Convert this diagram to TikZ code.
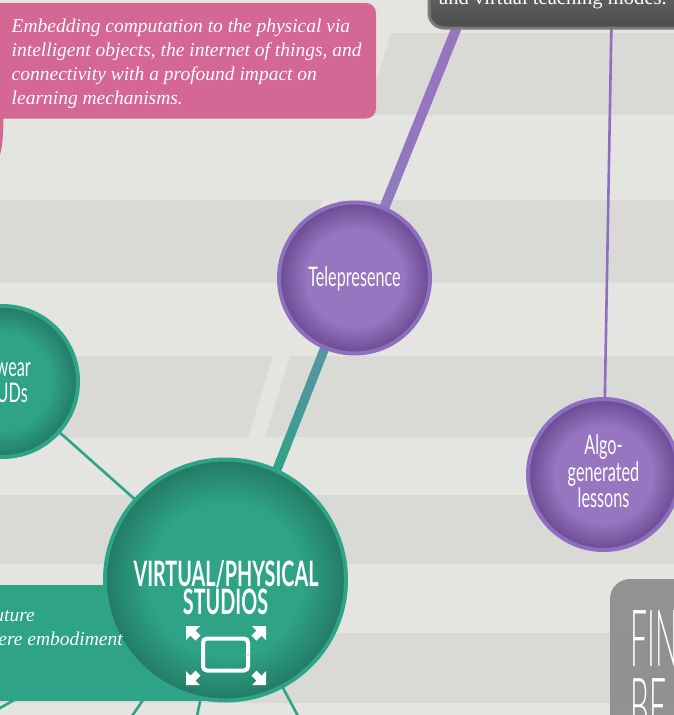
\documentclass[tikz,border=0pt]{standalone}
\usepackage{fontspec}
\usetikzlibrary{calc}
\setmainfont{Liberation Serif}
\newfontfamily\condfont[FakeStretch=0.60]{Lato}
\newfontfamily\headfont[FakeStretch=0.565]{Lato}
\newfontfamily\thinfont[FakeStretch=0.38]{Lato Light}
\definecolor{bgc}{HTML}{E4E5E0}
\definecolor{bandc}{HTML}{D9DAD5}
\definecolor{pinkc}{HTML}{D56794}
\definecolor{teal1}{HTML}{2EA386}
\definecolor{teal2}{HTML}{237A64}
\definecolor{purp1}{HTML}{9775C0}
\definecolor{purp2}{HTML}{6A4B92}
\definecolor{purpb}{HTML}{8E6EBE}
\definecolor{linkteal}{HTML}{5993A6}
\definecolor{linkpurp}{HTML}{8C7DBE}
\definecolor{fing}{HTML}{8E8F8D}
\pgfdeclareradialshading{greenball}{\pgfpoint{0bp}{0bp}}{color(0bp)=(teal1); color(16bp)=(teal1); color(25bp)=(teal2); color(50bp)=(teal2)}
\pgfdeclareradialshading{purpleball}{\pgfpoint{0bp}{0bp}}{color(0bp)=(purp1); color(16bp)=(purp1); color(25bp)=(purp2); color(50bp)=(purp2)}
\pgfdeclarelayer{bandlayer}
\pgfdeclarelayer{linelayer}
\pgfsetlayers{bandlayer,linelayer,main}
\tikzset{
  ball/.style={circle,line width=4pt,inner sep=0pt,outer sep=0pt,minimum size=#1},
  greenc/.style={ball=#1,draw=teal1,shading=greenball},
  purplec/.style={ball=#1,draw=purpb,shading=purpleball},
  band/.style={fill=bandc,draw=none},
  thing/.style={draw=teal1,line width=2.6pt},
  thinp/.style={draw=purpb,line width=2.6pt},
  ctext/.style={text=white,font=\condfont\fontsize{27}{26.5}\selectfont,align=center,inner sep=0pt},
  htext/.style={text=white,font=\headfont\bfseries\fontsize{35}{29}\selectfont,align=center,inner sep=0pt},
  itext/.style={text=white,font=\itshape\fontsize{19.5}{24}\selectfont,align=left,inner sep=0pt},
  boxshape/.style={rectangle,inner sep=0pt,outer sep=0pt},
  tabarrow/.style={fill=white,draw=none},
}
\begin{document}
\begin{tikzpicture}[x=1pt,y=-1pt]
\useasboundingbox (0,0) rectangle (674,715);
\begin{pgfonlayer}{bandlayer}
\fill[bgc] (0,0) rectangle (674,715);
\fill[band] (391,33) -- (674,33) -- (674,115) -- (366,115) -- cycle;
\fill[band] (0,200) -- (322,200) -- (297,283) -- (0,283) -- cycle;
\fill[band] (339,200) -- (674,200) -- (674,283) -- (314,283) -- cycle;
\fill[band] (0,356) -- (273,356) -- (248,437) -- (0,437) -- cycle;
\fill[band] (290,356) -- (674,356) -- (674,437) -- (265,437) -- cycle;
\fill[band] (0,495) rectangle (674,564);
\fill[band] (0,633) rectangle (674,703);
\end{pgfonlayer}

% boxes
\fill[pinkc] (0,116) -- (3.5,116) .. controls (3.5,133) and (2.5,146) .. (0,155) -- cycle;
\node[boxshape,fill=pinkc,rounded corners=10pt,minimum width=396pt,minimum height=115.5pt] (pinkbox) at (178,60.75) {};
\node[itext,anchor=north west] (pinktext) at (11.5,19) {Embedding computation to the physical via\\intelligent objects, the internet of things, and\\connectivity with a profound impact on\\learning mechanisms.};
\node[boxshape,top color=black!55,bottom color=black!70,draw=black!52,line width=3pt,rounded corners=15pt,minimum width=300pt,minimum height=66pt] (darkbox) at (579,-5) {};
\node[text=white,inner sep=0pt,anchor=base east,font=\fontsize{20.6}{24}\selectfont] (darktext) at (667,4) {and virtual teaching modes.};
\node[boxshape,fill=fing,fill opacity=0.95,rounded corners=20pt,minimum width=120pt,minimum height=200pt,anchor=north west] (finbox) at (610,579) {};
\node[text=white,inner sep=0pt,anchor=base west,font=\thinfont\fontsize{79}{68}\selectfont] (fintext) at (630,666) {FIN};
\node[text=white,inner sep=0pt,anchor=base west,font=\thinfont\fontsize{79}{68}\selectfont] (betext) at (630,734) {BE};
\node[boxshape,fill=teal1,minimum width=245pt,minimum height=115.5pt,anchor=north west] (greenbox) at (-20,585) {};

% circles
\node[greenc=241pt] (virt) at (225.5,580) {};
\node[purplec=151pt] (tele) at (354.5,278) {};
\node[purplec=151pt] (algo) at (603.5,474.5) {};
\node[greenc=151pt] (wear) at (2.5,381.5) {};

\node[text=white,inner sep=0pt,anchor=base east,font=\itshape\fontsize{19.5}{24}\selectfont] (gt1) at (35,621) {uture};
\node[text=white,inner sep=0pt,anchor=base east,font=\itshape\fontsize{19.5}{24}\selectfont] (gt2) at (123,645) {ere embodiment};

% free ends
\coordinate (topthick) at (456.5,28);
\coordinate (topthin) at (611.5,20);
\coordinate (bl1) at (-14,716);
\coordinate (bl2) at (132,716);
\coordinate (bl3) at (197,716);
\coordinate (bl4) at (298,716);

\begin{pgfonlayer}{linelayer}
\draw[thing] (virt.center) -- (wear.center);
\draw[thing] (virt.center) -- (bl1);
\draw[thing] (virt.center) -- (bl2);
\draw[thing] (virt.center) -- (bl3);
\draw[thing] (virt.center) -- (bl4);
\draw[thinp] (algo.center) -- (topthin);
\coordinate (ta) at (tele.247);
\coordinate (va) at (virt.65.5);
\shade[top color=linkteal,bottom color=teal1]
  ($(ta)!4.6pt!90:(va)$) -- ($(ta)!4.6pt!-90:(va)$) -- ($(va)!4.6pt!90:(ta)$) -- ($(va)!4.6pt!-90:(ta)$) -- cycle;
\coordinate (tb) at (tele.67.3);
\shade[top color=purp1,bottom color=linkpurp,middle color=purp1]
  ($(tb)!5pt!90:(topthick)$) -- ($(tb)!5pt!-90:(topthick)$) -- ($(topthick)!5pt!90:(tb)$) -- ($(topthick)!5pt!-90:(tb)$) -- cycle;
\end{pgfonlayer}

% labels
\node[ctext] (telet) at (354.5,278.5) {Telepresence};
\node[ctext,anchor=base] (algot1) at (603.5,454) {Algo-};
\node[ctext,anchor=base] (algot2) at (603.5,481) {generated};
\node[ctext,anchor=base] (algot3) at (603.5,507) {lessons};
\node[ctext,anchor=base east] (weart) at (31,376) {wear};
\node[ctext,anchor=base east] (hudt) at (28,402) {UDs};
\node[htext,anchor=base] (vt1) at (226,586) {VIRTUAL/PHYSICAL};
\node[htext,anchor=base] (vt2) at (225.5,614) {STUDIOS};

% tablet icon
\node[boxshape,draw=white,line width=4pt,rounded corners=4pt,minimum width=45pt,minimum height=32pt] (tablet) at (225.5,654.5) {};
\fill[teal1!50!white] (248,655) circle (0.8pt);
\foreach \tx/\ty/\sx/\sy in {186/626/1/1,266/626/-1/1,186/685/1/-1,266/685/-1/-1}{
  \fill[tabarrow,shift={(\tx,\ty)},xscale=\sx,yscale=\sy]
    (0,0) -- (14,0) -- (9.5,4.5) -- (14.5,9.5) -- (9.5,14.5) -- (4.5,9.5) -- (0,14) -- cycle;
}
\end{tikzpicture}
\end{document}
